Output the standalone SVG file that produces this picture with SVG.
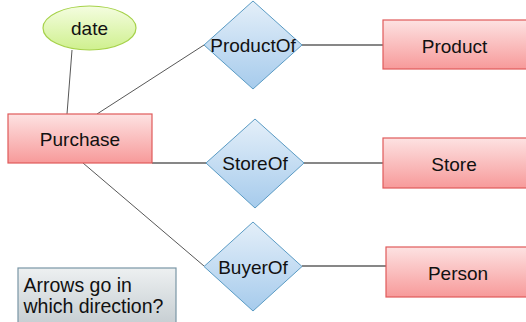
<svg xmlns="http://www.w3.org/2000/svg" width="526" height="322" viewBox="0 0 526 322">
  <defs>
    <linearGradient id="gEntity" x1="0" y1="0" x2="0" y2="1">
      <stop offset="0" stop-color="#fde2e2"/>
      <stop offset="1" stop-color="#f79a9a"/>
    </linearGradient>
    <linearGradient id="gRel" x1="0" y1="0" x2="0" y2="1">
      <stop offset="0" stop-color="#e4eff9"/>
      <stop offset="1" stop-color="#a6cbec"/>
    </linearGradient>
    <linearGradient id="gAttr" x1="0" y1="0" x2="0" y2="1">
      <stop offset="0" stop-color="#f4fde0"/>
      <stop offset="1" stop-color="#cff08e"/>
    </linearGradient>
    <linearGradient id="gNote" x1="0" y1="0" x2="0" y2="1">
      <stop offset="0" stop-color="#edf0f1"/>
      <stop offset="1" stop-color="#c4ccd0"/>
    </linearGradient>
  </defs>
  <style>
    .entity { fill: url(#gEntity); stroke: #e05a5a; stroke-width: 1.2; }
    .rel { fill: url(#gRel); stroke: #5a9bc4; stroke-width: 1; }
    .attr { fill: url(#gAttr); stroke: #a6d24a; stroke-width: 1.2; }
    .note { fill: url(#gNote); stroke: #7a96a6; stroke-width: 1.2; }
    .lbl { font-family: "Liberation Sans", Arial, sans-serif; font-size: 19px; fill: #111; text-anchor: middle; }
    .ntxt { font-family: "Liberation Sans", Arial, sans-serif; font-size: 19.5px; fill: #111; }
    .link { stroke: #111; stroke-width: 1.2; fill: none; }
    .thin { stroke: #444; stroke-width: 0.9; fill: none; }
  </style>

  <!-- connectors -->
  <g id="connectors">
    <line class="thin" x1="72" y1="50" x2="67" y2="114"/>
    <line class="thin" x1="97" y1="114" x2="204" y2="45"/>
    <line class="link" x1="302" y1="45" x2="383" y2="45"/>
    <line class="link" x1="152" y1="163" x2="206" y2="163"/>
    <line class="link" x1="304" y1="163" x2="383" y2="163"/>
    <line class="thin" x1="83" y1="163" x2="204" y2="266"/>
    <line class="link" x1="302" y1="266" x2="386" y2="266"/>
  </g>

  <!-- attribute -->
  <g id="date">
    <ellipse class="attr" cx="89.5" cy="28" rx="46.5" ry="22"/>
    <text class="lbl" x="89.5" y="35">date</text>
  </g>

  <!-- entities -->
  <g id="purchase">
    <rect class="entity" x="8" y="114" width="144" height="49"/>
    <text class="lbl" x="80" y="145.5">Purchase</text>
  </g>
  <g id="product">
    <rect class="entity" x="383" y="20" width="150" height="49"/>
    <text class="lbl" x="454.5" y="52.5">Product</text>
  </g>
  <g id="store">
    <rect class="entity" x="383" y="138" width="150" height="50"/>
    <text class="lbl" x="454" y="170.5">Store</text>
  </g>
  <g id="person">
    <rect class="entity" x="386" y="247" width="150" height="50"/>
    <text class="lbl" x="458" y="279.5">Person</text>
  </g>

  <!-- relationships -->
  <g id="productOf">
    <polygon class="rel" points="253,1 302,45 253,89 204,45"/>
    <text class="lbl" x="253" y="52">ProductOf</text>
  </g>
  <g id="storeOf">
    <polygon class="rel" points="255,119 304,163 255,208 206,163"/>
    <text class="lbl" x="255" y="170">StoreOf</text>
  </g>
  <g id="buyerOf">
    <polygon class="rel" points="253,222 302,266.5 253,311 204,266.5"/>
    <text class="lbl" x="253" y="273.5">BuyerOf</text>
  </g>

  <!-- note -->
  <g id="note">
    <rect class="note" x="18" y="268" width="158" height="60"/>
    <text class="ntxt" x="23.5" y="291.5">Arrows go in</text>
    <text class="ntxt" x="23.5" y="312.5">which direction?</text>
  </g>
</svg>
